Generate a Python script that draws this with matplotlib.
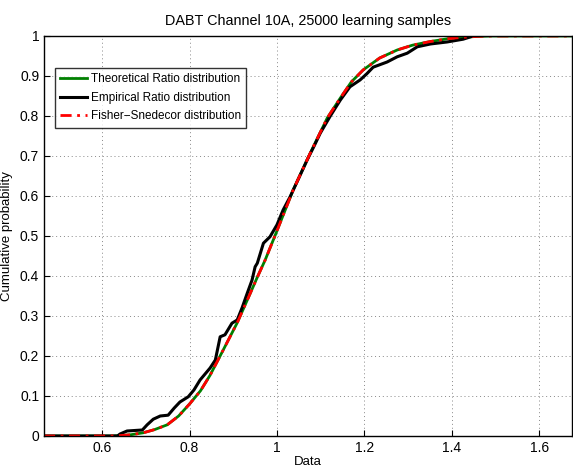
import numpy as np
import matplotlib
matplotlib.use("Agg")
import matplotlib.pyplot as plt

plt.rcParams['font.family'] = ['Liberation Sans', 'DejaVu Sans']

# theoretical ratio CDF
theo_x = [0.467, 0.62, 0.641, 0.665, 0.694, 0.72, 0.749, 0.775, 0.80, 0.825, 0.847,
          0.877, 0.909, 0.939, 0.955, 0.973, 1.0, 1.037, 1.076, 1.115, 1.145,
          1.17, 1.197, 1.235, 1.275, 1.31, 1.35, 1.39, 1.426, 1.46, 1.49, 1.675]
theo_y = [0.0, 0.0, 0.001, 0.003, 0.008, 0.016, 0.028, 0.05, 0.08, 0.113, 0.152,
          0.215, 0.283, 0.357, 0.397, 0.44, 0.513, 0.615, 0.707, 0.795, 0.845,
          0.885, 0.915, 0.945, 0.965, 0.977, 0.986, 0.993, 0.997, 0.999, 1.0, 1.0]

# empirical ratio CDF
emp_x = [0.467, 0.577, 0.635, 0.641, 0.657, 0.692, 0.703, 0.717, 0.733, 0.751, 0.765, 0.778,
         0.797, 0.81, 0.824, 0.847, 0.859, 0.870, 0.881, 0.897, 0.909, 0.92,
         0.932, 0.943, 0.950, 0.955, 0.969, 0.984, 1.0, 1.014, 1.030, 1.05,
         1.069, 1.085, 1.099, 1.122, 1.145, 1.167, 1.190, 1.205, 1.220, 1.252,
         1.275, 1.298, 1.321, 1.351, 1.389, 1.426, 1.449]
emp_y = [0.0, 0.0, 0.0, 0.005, 0.0125, 0.015, 0.028, 0.042, 0.05, 0.052, 0.07, 0.085,
         0.098, 0.115, 0.14, 0.17, 0.19, 0.248, 0.253, 0.282, 0.29, 0.32,
         0.357, 0.39, 0.423, 0.432, 0.482, 0.498, 0.528, 0.565, 0.598, 0.645,
         0.69, 0.725, 0.757, 0.80, 0.84, 0.873, 0.89, 0.905, 0.922, 0.935,
         0.948, 0.957, 0.973, 0.98, 0.985, 0.992, 1.0]

# Fisher-Snedecor CDF, lies on top of the theoretical one
fs_x = theo_x
fs_y = theo_y

xticks = [0.6, 0.8, 1.0, 1.2, 1.4, 1.6]
xticklabels = ['0.6', '0.8', '1', '1.2', '1.4', '1.6']
yticks = [0, 0.1, 0.2, 0.3, 0.4, 0.5, 0.6, 0.7, 0.8, 0.9, 1.0]
yticklabels = ['0', '0.1', '0.2', '0.3', '0.4', '0.5', '0.6', '0.7', '0.8', '0.9', '1']

fig = plt.figure(figsize=(5.73, 4.68), dpi=100)
ax = fig.add_axes([0.0768, 0.0684, 0.9215, 0.8547])

ax.plot(theo_x, theo_y, color='#008000', lw=2, label='Theoretical Ratio distribution')
ax.plot(emp_x, emp_y, color='black', lw=2.2, label='Empirical Ratio distribution')
ax.plot(fs_x, fs_y, color='red', lw=2, ls=(0, (4, 2, 1, 2)), label='Fisher\u2212Snedecor distribution')

ax.set_xlim(0.467, 1.675)
ax.set_ylim(0, 1)
ax.set_xticks(xticks)
ax.set_xticklabels(xticklabels)
ax.set_yticks(yticks)
ax.set_yticklabels(yticklabels)
ax.tick_params(direction='in', labelsize=10, length=4)
ax.grid(True, ls=(0, (1, 3)), color='#888888', lw=0.7)
for s in ax.spines.values():
    s.set_linewidth(1.0)

ax.set_title('DABT Channel 10A, 25000 learning samples', fontsize=10.4, pad=8)
ax.set_xlabel('Data', fontsize=9.5, labelpad=0.5)
ax.set_ylabel('Cumulative probability', fontsize=9.5, labelpad=5)

leg = ax.legend(loc='upper left', bbox_to_anchor=(0.02, 0.92), fontsize=8.5,
                frameon=True, fancybox=False, handlelength=2.3, handletextpad=0.3,
                borderpad=0.45, labelspacing=0.55, borderaxespad=0)
leg.get_frame().set_edgecolor('black')
leg.get_frame().set_linewidth(1.0)

fig.savefig('out.png', dpi=100)
